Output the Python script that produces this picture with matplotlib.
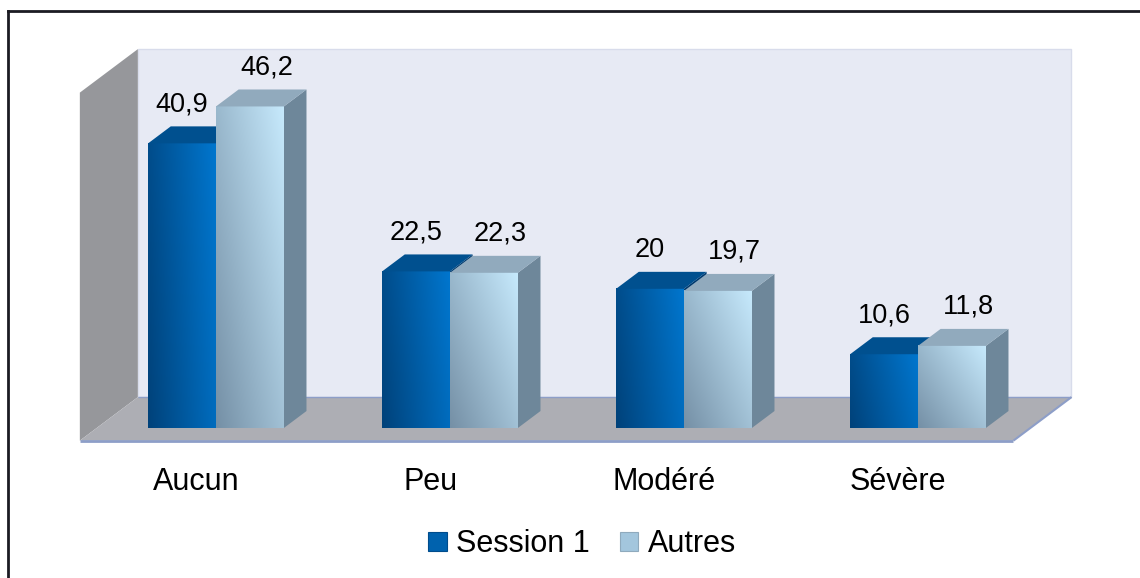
import numpy as np
import matplotlib.pyplot as plt
from matplotlib.patches import Polygon, Patch
from matplotlib.colors import LinearSegmentedColormap
from matplotlib.lines import Line2D

plt.rcParams['font.family'] = ['Liberation Sans', 'DejaVu Sans']

# data
categories = ['Aucun', 'Peu', 'Modéré', 'Sévère']
session1 = [40.9, 22.5, 20, 10.6]
autres = [46.2, 22.3, 19.7, 11.8]
series_names = ['Session 1', 'Autres']
ymax = 50

# layout (pixels of the 1140x578 picture)
W, H = 1140, 578
px_cat, px_val = 234.0, 6.96      # px per category / per value unit
x0_px, y0_px = 216, 428           # first group centre, value 0 (from top)

DX, DY = 58 / px_cat, 43.5 / px_val   # full floor depth in data units
F0, F1 = 0.29, 0.68                   # bar front / back depth fraction
XL, XR = -0.51, 3.48
bar_w = 0.29


def proj(x, v, f):
    return (x + DX * (f - F0), v + DY * (f - F0))


fig = plt.figure(figsize=(W / 100, H / 100), dpi=100, facecolor='white')
ax = fig.add_axes([0, 0, 1, 1])
ax.axis('off')


def face(pts, **kw):
    ax.add_patch(Polygon([proj(*p) for p in pts], closed=True, **kw))


# walls and floor
face([(XL, 0, 1), (XR, 0, 1), (XR, ymax, 1), (XL, ymax, 1)],
     fc='#E7EAF4', ec='#D8DCEB', lw=1, zorder=0)
face([(XL, 0, 0), (XL, 0, 1), (XL, ymax, 1), (XL, ymax, 0)],
     fc='#96979B', ec='none', zorder=0)
face([(XL, 0, 0), (XR, 0, 0), (XR, 0, 1), (XL, 0, 1)],
     fc='#ADAEB4', ec='none', zorder=1)
for a, b, lw in [((XL, 0, 0), (XR, 0, 0), 2.0), ((XR, 0, 0), (XR, 0, 1), 1.5),
                 ((XL, 0, 1), (XR, 0, 1), 1.0)]:
    p, q = proj(*a), proj(*b)
    ax.plot([p[0], q[0]], [p[1], q[1]], color='#8D9EC8', lw=lw, zorder=1.5,
            solid_capstyle='butt')

x = np.arange(len(categories))
styles = [
    dict(cmap=LinearSegmentedColormap.from_list('s1', ['#00427A', '#0076CE']),
         mix=(0.8, 0.2), top='#00508F', side='#003A6E', base='#0062AE', dx=0),
    dict(cmap=LinearSegmentedColormap.from_list('au', ['#7590A6', '#C6E9FC']),
         mix=(0.55, 0.45), top='#91AABD', side='#6E879A', base='#A3C6DD', dx=12),
]
gx, gy = np.meshgrid(np.linspace(0, 1, 80), np.linspace(0, 1, 80))

for j, (vals, st) in enumerate(zip([session1, autres], styles)):
    z = 2 + 3 * j
    bars = ax.bar(x - bar_w / 2 + j * bar_w, vals, bar_w, color=st['base'],
                  lw=0, zorder=z + 1)
    for rect in bars:
        bx, w, h = rect.get_x(), rect.get_width(), rect.get_height()
        g = st['mix'][0] * gx + st['mix'][1] * gy
        ax.imshow(g, extent=[bx, bx + w, 0, h], origin='lower', cmap=st['cmap'],
                  aspect='auto', interpolation='bilinear', zorder=z + 1.1)
        face([(bx + w, 0, F0), (bx + w, 0, F1), (bx + w, h, F1), (bx + w, h, F0)],
             fc=st['side'], ec='none', zorder=z)
        face([(bx, h, F0), (bx + w, h, F0), (bx + w, h, F1), (bx, h, F1)],
             fc=st['top'], ec='none', zorder=z + 2)
        ax.annotate(f'{h:g}'.replace('.', ','), (bx + w / 2, h),
                    xytext=(st['dx'], 23), textcoords='offset points',
                    ha='center', va='baseline', fontsize=19.5, zorder=20)

# category labels
for i, c in enumerate(categories):
    ax.text(i - 0.085, -8.9, c, ha='center', va='baseline', fontsize=22)

ax.set_xlim(-x0_px / px_cat, (W - x0_px) / px_cat)
ax.set_ylim(-(H - y0_px) / px_val, y0_px / px_val)

handles = [Patch(fc='#0062AE', ec='#004C8C', lw=0.8),
           Patch(fc='#A3C6DD', ec='#8FAABD', lw=0.8)]
fig.legend(handles, series_names, loc='center', bbox_to_anchor=(582 / W, 34 / H),
           ncol=2, frameon=False, fontsize=22, handlelength=0.6, handleheight=0.6,
           handletextpad=0.3, columnspacing=1.0, borderpad=0)

# outer frame (top and left only)
fig.add_artist(Line2D([7.5 / W, 1], [1 - 10.7 / H] * 2, transform=fig.transFigure,
                      color='#1B1B22', lw=2))
fig.add_artist(Line2D([7.5 / W] * 2, [0, 1 - 10.7 / H], transform=fig.transFigure,
                      color='#1B1B22', lw=2))

fig.savefig('out.png', dpi=100)
